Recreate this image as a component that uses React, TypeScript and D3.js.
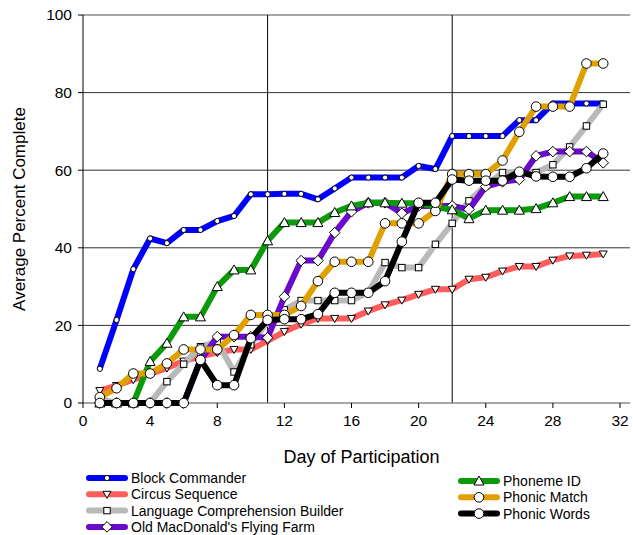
import React from "react";
import * as d3 from "d3";

// Day index 1..31 shared by every series
const days: number[] = d3.range(1, 32);

const blockCommander = [8.8, 21.4, 34.5, 42.4, 41.2, 44.6, 44.6, 46.9, 48.2, 53.8, 53.8, 53.9, 53.9, 52.5, 55.3, 58.1, 58.1, 58.1, 58.1, 61.1, 60.3, 68.8, 68.8, 68.8, 68.8, 72.9, 72.9, 77.2, 77.2, 77.2, 77.2];
const circusSequence = [3.2, 4.5, 6.0, 7.5, 9.0, 10.8, 12.0, 13.0, 13.8, 13.8, 16.0, 18.4, 20.3, 21.8, 21.8, 21.8, 23.7, 25.3, 26.5, 28.0, 29.3, 29.3, 31.9, 32.4, 34.0, 35.2, 35.2, 36.8, 37.9, 38.1, 38.4];
const languageBuilder = [1.0, 0, 0, 0, 5.5, 10.0, 14.5, 15.8, 8.0, 15.0, 21.0, 24.0, 26.4, 26.4, 26.4, 26.4, 28.5, 36.2, 34.9, 34.9, 40.9, 46.3, 52.1, 56.0, 59.4, 59.4, 59.4, 61.4, 66.0, 71.4, 77.0];
const oldMacDonald = [0, 0, 0, 0, 0, 0, 11.0, 17.1, 17.1, 17.1, 16.8, 27.4, 36.7, 36.7, 43.9, 49.3, 51.6, 51.6, 48.9, 50.8, 50.8, 50.8, 49.9, 55.8, 57.0, 57.6, 63.7, 64.8, 64.8, 64.8, 61.9];
const phonemeId = [0, 0, 0, 10.7, 15.4, 22.2, 22.2, 30.0, 34.3, 34.3, 41.8, 46.5, 46.5, 46.5, 49.1, 50.8, 51.6, 51.6, 51.5, 51.5, 50.5, 49.8, 47.5, 49.7, 49.7, 49.7, 50.1, 51.6, 53.2, 53.2, 53.2];
const phonicMatch = [1.5, 3.8, 7.6, 7.6, 10.2, 13.8, 13.8, 13.8, 17.5, 22.7, 22.7, 22.7, 25.0, 31.4, 36.4, 36.4, 36.4, 46.3, 46.3, 46.3, 49.5, 59.0, 59.0, 59.0, 62.5, 69.9, 76.4, 76.4, 76.4, 87.5, 87.5];
const phonicWords = [0, 0, 0, 0, 0, 0, 11.1, 4.6, 4.6, 16.7, 21.4, 21.6, 21.6, 22.9, 28.4, 28.4, 28.4, 31.4, 41.6, 51.6, 51.6, 57.6, 57.3, 57.3, 57.3, 59.6, 58.4, 58.3, 58.3, 60.5, 64.3];

const seriesNames = [
  "Block Commander",
  "Circus Sequence",
  "Language Comprehension Builder",
  "Old MacDonald's Flying Farm",
  "Phoneme ID",
  "Phonic Match",
  "Phonic Words",
];
const seriesValues = [blockCommander, circusSequence, languageBuilder, oldMacDonald, phonemeId, phonicMatch, phonicWords];
const seriesColors = ["#0000ff", "#ff5c5c", "#b9b9b9", "#6a0acc", "#0a9a0a", "#e0a000", "#000000"];
const seriesMarkers = ["smallCircle", "triangleDown", "square", "diamond", "triangleUp", "circle", "circle"];

const xTicks = [0, 4, 8, 12, 16, 20, 24, 28, 32];
const yTicks = [0, 20, 40, 60, 80, 100];
const phaseDays = [11, 22];

const FONT = "'Liberation Sans', Arial, sans-serif";

function Marker({ kind, x, y }: { kind: string; x: number; y: number }) {
  const common = { fill: "#fff", stroke: "#000", strokeWidth: 1 };
  switch (kind) {
    case "smallCircle":
      return <circle cx={x} cy={y} r={2.6} {...common} />;
    case "circle":
      return <circle cx={x} cy={y} r={4.8} {...common} />;
    case "square":
      return <rect x={x - 3.2} y={y - 3.2} width={6.4} height={6.4} {...common} />;
    case "diamond":
      return <path d={`M${x},${y - 5.3}L${x + 5.3},${y}L${x},${y + 5.3}L${x - 5.3},${y}Z`} {...common} />;
    case "triangleUp":
      return <path d={`M${x},${y - 5}L${x + 5},${y + 4}L${x - 5},${y + 4}Z`} {...common} />;
    case "triangleDown":
      return <path d={`M${x - 4},${y - 3}L${x + 4},${y - 3}L${x},${y + 4}Z`} {...common} />;
    default:
      return null;
  }
}

export default function App() {
  const width = 633;
  const height = 535;
  const left = 83;
  const right = 620;
  const frameRight = 630;
  const top = 15;
  const bottom = 403;

  const x = d3.scaleLinear().domain([0, 32]).range([left, right]);
  const y = d3.scaleLinear().domain([0, 100]).range([bottom, top]);

  const line = d3
    .line<[number, number]>()
    .x((d) => x(d[0]))
    .y((d) => y(d[1]));

  const legendLeft = [0, 1, 2, 3];
  const legendRight = [4, 5, 6];

  const legendItem = (i: number, lx: number, ly: number) => (
    <g key={`lg-${i}`}>
      <line x1={lx} x2={lx + 36} y1={ly} y2={ly} stroke={seriesColors[i]} strokeWidth={6} strokeLinecap="round" />
      <Marker kind={seriesMarkers[i]} x={lx + 18} y={ly} />
      <text x={lx + 42} y={ly} dy="0.35em" fontSize={14} fontFamily={FONT} fill="#000">
        {seriesNames[i]}
      </text>
    </g>
  );

  return (
    <svg width={width} height={height} style={{ position: "absolute", left: 0, top: 0, background: "#fff" }}>
      {/* horizontal reference lines */}
      {yTicks
        .filter((t) => t > 0 && t < 100)
        .map((t) => (
          <line key={`gy-${t}`} x1={left} x2={frameRight} y1={y(t)} y2={y(t)} stroke="#333" strokeWidth={1} />
        ))}
      <line x1={left} x2={frameRight} y1={y(100)} y2={y(100)} stroke="#8a8a8a" strokeWidth={1.5} />

      {/* phase change lines */}
      {phaseDays.map((d) => (
        <line key={`ph-${d}`} x1={x(d)} x2={x(d)} y1={y(0)} y2={y(100)} stroke="#000" strokeWidth={1} />
      ))}

      {/* axes */}
      <line x1={left} x2={frameRight} y1={bottom} y2={bottom} stroke="#888" strokeWidth={1.5} />
      <line x1={left} x2={left} y1={top} y2={bottom} stroke="#000" strokeWidth={1} />
      {xTicks.map((t) => (
        <g key={`xt-${t}`}>
          <line x1={x(t)} x2={x(t)} y1={bottom} y2={bottom + 5} stroke="#000" strokeWidth={1} />
          <text x={x(t)} y={bottom + 23} textAnchor="middle" fontSize={15.5} fontFamily={FONT} fill="#000">
            {t}
          </text>
        </g>
      ))}
      {yTicks.map((t) => (
        <g key={`yt-${t}`}>
          <line x1={left - 5} x2={left} y1={y(t)} y2={y(t)} stroke="#000" strokeWidth={1} />
          <text x={left - 11} y={y(t)} dy="0.35em" textAnchor="end" fontSize={15.5} fontFamily={FONT} fill="#000">
            {t}
          </text>
        </g>
      ))}

      {/* series */}
      {seriesValues.map((vals, i) => {
        const pts: [number, number][] = vals.map((v, k) => [days[k], v]);
        return (
          <g key={`s-${i}`}>
            <path d={line(pts) || ""} fill="none" stroke={seriesColors[i]} strokeWidth={6} strokeLinejoin="round" />
            {pts.map((p, k) => (
              <Marker key={k} kind={seriesMarkers[i]} x={x(p[0])} y={y(p[1])} />
            ))}
          </g>
        );
      })}

      {/* axis titles */}
      <text x={(left + right) / 2 + 10} y={463} textAnchor="middle" fontSize={18} fontFamily={FONT} fill="#000">
        Day of Participation
      </text>
      <text
        transform={`translate(25,${(top + bottom) / 2}) rotate(-90)`}
        textAnchor="middle"
        fontSize={17}
        fontFamily={FONT}
        fill="#000"
      >
        Average Percent Complete
      </text>

      {/* legend */}
      {legendLeft.map((i, k) => legendItem(i, 89, 478 + k * 16.3))}
      {legendRight.map((i, k) => legendItem(i, 461, 481 + k * 16.3))}
    </svg>
  );
}
